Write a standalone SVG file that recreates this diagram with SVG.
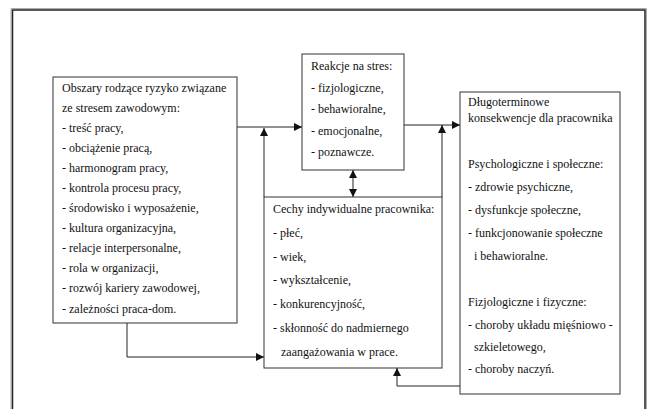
<svg xmlns="http://www.w3.org/2000/svg" width="647" height="409" viewBox="0 0 647 409">
<defs>
<style>
.box{fill:#fff;stroke:#333;stroke-width:1}
.t{font-family:"Liberation Serif","Times New Roman",serif;font-size:12px;fill:#111}
.c{fill:none;stroke:#222;stroke-width:1}
</style>
<marker id="ah" viewBox="0 0 10 10" refX="10" refY="5" markerWidth="8" markerHeight="8" markerUnits="userSpaceOnUse" orient="auto-start-reverse">
<path d="M0,0 L10,5 L0,10 z" fill="#111"/>
</marker>
</defs>
<rect width="647" height="409" fill="#fff"/>
<g id="frame">
<path d="M11,415 V8.5 H646.5 V415" fill="none" stroke="#aaa" stroke-width="1"/>
<path d="M12.5,415 V10 H645 V415" fill="none" stroke="#222" stroke-width="1.5"/>
</g>
<g id="connectors">
<path class="c" d="M237,127 H302" marker-end="url(#ah)"/>
<path class="c" d="M264,197 V128" marker-end="url(#ah)"/>
<path class="c" d="M404,125 H460" marker-end="url(#ah)"/>
<path class="c" d="M442,197 V125" marker-end="url(#ah)"/>
<path class="c" d="M353,170 V197" marker-start="url(#ah)" marker-end="url(#ah)"/>
<path class="c" d="M127,323 V357 H264" marker-end="url(#ah)"/>
<path class="c" d="M460,386 H397 V368" marker-end="url(#ah)"/>
</g>
<g id="node-obszary">
<rect class="box" x="53" y="77" width="184" height="246"/>
<text class="t" x="62" y="92">Obszary rodzące ryzyko związane</text>
<text class="t" x="62" y="112">ze stresem zawodowym:</text>
<text class="t" x="62" y="132">- treść pracy,</text>
<text class="t" x="62" y="152">- obciążenie pracą,</text>
<text class="t" x="62" y="172">- harmonogram pracy,</text>
<text class="t" x="62" y="192">- kontrola procesu pracy,</text>
<text class="t" x="62" y="212">- środowisko i wyposażenie,</text>
<text class="t" x="62" y="232">- kultura organizacyjna,</text>
<text class="t" x="62" y="252">- relacje interpersonalne,</text>
<text class="t" x="62" y="272">- rola w organizacji,</text>
<text class="t" x="62" y="292">- rozwój kariery zawodowej,</text>
<text class="t" x="62" y="313">- zależności praca-dom.</text>
</g>
<g id="node-reakcje">
<rect class="box" x="302" y="54" width="102" height="116"/>
<text class="t" x="311" y="70">Reakcje na stres:</text>
<text class="t" x="311" y="92">- fizjologiczne,</text>
<text class="t" x="311" y="113">- behawioralne,</text>
<text class="t" x="311" y="135">- emocjonalne,</text>
<text class="t" x="311" y="156">- poznawcze.</text>
</g>
<g id="node-cechy">
<rect class="box" x="264" y="197" width="178" height="171"/>
<text class="t" x="273" y="213">Cechy indywidualne pracownika:</text>
<text class="t" x="273" y="237">- płeć,</text>
<text class="t" x="273" y="261">- wiek,</text>
<text class="t" x="273" y="284">- wykształcenie,</text>
<text class="t" x="273" y="308">- konkurencyjność,</text>
<text class="t" x="273" y="332">- skłonność do nadmiernego</text>
<text class="t" x="281" y="356">zaangażowania w prace.</text>
</g>
<g id="node-konsekwencje">
<rect class="box" x="460" y="92" width="160" height="302"/>
<text class="t" x="468" y="106">Długoterminowe</text>
<text class="t" x="468" y="122">konsekwencje dla pracownika</text>
<text class="t" x="468" y="168">Psychologiczne i społeczne:</text>
<text class="t" x="468" y="191">- zdrowie psychiczne,</text>
<text class="t" x="468" y="214">- dysfunkcje społeczne,</text>
<text class="t" x="468" y="237">- funkcjonowanie społeczne</text>
<text class="t" x="474" y="260">i behawioralne.</text>
<text class="t" x="468" y="306">Fizjologiczne i fizyczne:</text>
<text class="t" x="468" y="329">- choroby układu mięśniowo -</text>
<text class="t" x="474" y="351">szkieletowego,</text>
<text class="t" x="468" y="373">- choroby naczyń.</text>
</g>
</svg>
